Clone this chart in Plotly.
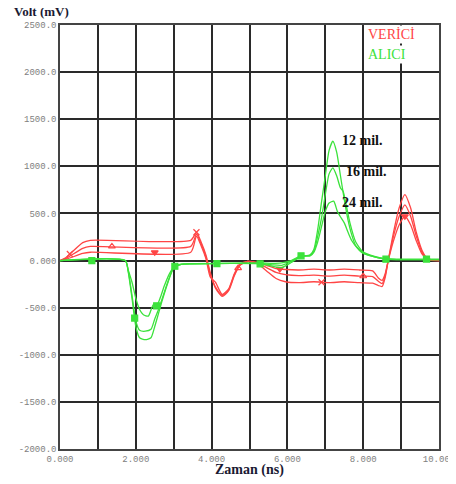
import numpy as np
import plotly.graph_objects as go

# ---------------- data ----------------
x_tick_vals = [0, 1, 2, 3, 4, 5, 6, 7, 8, 9, 10]
x_tick_text = ["0.000", "", "2.000", "", "4.000", "", "6.000", "", "8.000", "", "10.000"]
y_tick_vals = [-2000, -1500, -1000, -500, 0, 500, 1000, 1500, 2000, 2500]
y_tick_text = ["-2000.0", "-1500.0", "-1000.0", "-500.0", "0.000", "500.0", "1000.0", "1500.0", "2000.0", "2500.0"]

# VERİCİ (transmitter) curves
r_x = [0, 0.15, 0.6, 0.8, 3.45, 3.6, 3.72, 3.85, 3.96, 4.1, 4.28, 4.45, 4.6, 4.75, 4.95, 5.2, 5.45, 5.7,
       5.95, 6.3, 6.7, 7.1, 7.5, 7.9, 8.25, 8.4, 8.5, 8.58, 8.66, 8.8, 8.95, 9.1, 9.25, 9.4, 9.55, 9.7, 10]
r1_y = [0, 30, 190, 215, 215, 300, 200, 60, -120, -290, -380, -320, -160, -50, -10, -30, -110, -190,
        -225, -235, -225, -235, -225, -235, -240, -265, -275, -180, 0, 300, 560, 700, 560, 300, 110, 20, 0]
r2_y = [0, 20, 130, 150, 150, 280, 180, 40, -140, -280, -370, -310, -150, -45, -10, -25, -75, -125,
        -150, -160, -155, -165, -155, -165, -170, -220, -245, -160, 0, 260, 470, 590, 470, 260, 90, 15, 0]
r3_y = [0, 12, 75, 88, 88, 260, 160, 20, -170, -230, -360, -300, -140, -40, -10, -20, -50, -85,
        -95, -100, -92, -100, -92, -100, -110, -185, -210, -140, 0, 210, 380, 470, 380, 210, 70, 10, 0]

# ALICI (receiver) curves: 12 mil, 16 mil, 24 mil
g1_x = [0, 1.72, 1.8, 1.9, 2.0, 2.1, 2.25, 2.4, 2.5, 2.6, 2.7, 2.85, 3.0, 3.2, 3.5, 4.5, 5.3, 5.6, 5.85,
        6.1, 6.35, 6.6, 6.7, 6.8, 6.9, 7.0, 7.1, 7.2, 7.3, 7.4, 7.5, 7.6, 7.7, 7.8, 8.0, 8.3, 8.6, 10]
g1_y = [0, 0, -120, -400, -700, -820, -840, -820, -700, -560, -420, -230, -80, -40, -35, -30, -35, -60, -75,
        -20, 40, 60, 120, 330, 620, 900, 1170, 1266, 1150, 900, 650, 430, 270, 160, 80, 40, 15, 10]
g2_x = [0, 1.72, 1.8, 1.9, 2.0, 2.1, 2.25, 2.4, 2.5, 2.6, 2.7, 2.85, 3.0, 3.2, 3.5, 4.5, 5.3, 5.6, 5.85,
        6.1, 6.35, 6.6, 6.7, 6.8, 6.9, 7.0, 7.1, 7.2, 7.3, 7.4, 7.47, 7.55, 7.65, 7.8, 8.0, 8.3, 8.6, 10]
g2_y = [0, 0, -110, -370, -640, -740, -750, -730, -620, -520, -400, -220, -75, -40, -35, -30, -30, -45, -50,
        -10, 45, 55, 100, 260, 450, 700, 920, 984, 900, 770, 735, 590, 400, 200, 90, 45, 20, 15]
g3_x = [0, 1.72, 1.8, 1.9, 2.0, 2.1, 2.2, 2.33, 2.46, 2.55, 2.65, 2.75, 2.9, 3.05, 3.3, 4.5, 5.3, 5.6, 5.85,
        6.1, 6.35, 6.6, 6.7, 6.8, 6.9, 7.0, 7.1, 7.22, 7.32, 7.39, 7.5, 7.6, 7.7, 7.85, 8.0, 8.3, 8.6, 10]
g3_y = [0, 0, -100, -230, -400, -520, -575, -590, -470, -480, -390, -270, -130, -50, -35, -30, -25, -30, -25,
        0, 50, 50, 90, 200, 360, 520, 610, 630, 520, 470, 400, 300, 210, 130, 75, 40, 15, 10]

# marker positions (ns) along curves
r1_mark_x = [0.26, 3.6, 6.9]
r2_mark_x = [1.37, 4.7, 8.0]
r3_mark_x = [2.5, 5.8, 9.1]
g1_mark_x = [1.97, 5.28, 8.6]
g2_mark_x = [0.84, 4.14, 9.67]
g3_mark_x = [2.55, 3.03, 6.36]

labels = ["12 mil.", "16 mil.", "24 mil."]
label_x = [7.39, 7.49, 7.39]
label_y = [1274, 945, 616]

RED = "#ff4545"
GREEN = "#3be23b"

fig = go.Figure()

def add_curve(x, y, color, mx, symbol):
    fig.add_trace(go.Scatter(x=x, y=y, mode="lines",
                             line=dict(color=color, width=1.3, shape="spline", smoothing=0.6),
                             showlegend=False, hoverinfo="skip"))
    my = np.interp(mx, x, y)
    fig.add_trace(go.Scatter(x=mx, y=my, mode="markers",
                             marker=dict(color=color, size=6, symbol=symbol,
                                         line=dict(color=color, width=1.2)),
                             showlegend=False, hoverinfo="skip"))

add_curve(r_x, r1_y, RED, r1_mark_x, "x-thin")
add_curve(r_x, r2_y, RED, r2_mark_x, "triangle-up-open")
add_curve(r_x, r3_y, RED, r3_mark_x, "triangle-down")
add_curve(g1_x, g1_y, GREEN, g1_mark_x, "square")
add_curve(g2_x, g2_y, GREEN, g2_mark_x, "square")
add_curve(g3_x, g3_y, GREEN, g3_mark_x, "square")

for t, lx, ly in zip(labels, label_x, label_y):
    fig.add_annotation(x=lx, y=ly, text=f"<b>{t}</b>", showarrow=False, xanchor="left",
                       font=dict(family="Liberation Serif", size=14, color="#111"))

fig.add_annotation(x=8.07, y=2399, text="VERİCİ", showarrow=False, xanchor="left", yanchor="middle",
                   bgcolor="white", borderpad=1,
                   font=dict(family="Liberation Serif", size=14, color=RED))
fig.add_annotation(x=8.07, y=2190, text="ALICI", showarrow=False, xanchor="left", yanchor="middle",
                   bgcolor="white", borderpad=1,
                   font=dict(family="Liberation Serif", size=14, color=GREEN))

fig.add_annotation(xref="paper", yref="paper", x=-0.124, y=1.0118, xanchor="left", yanchor="bottom",
                   text="<b>Volt (mV)</b>", showarrow=False, borderpad=0,
                   font=dict(family="Liberation Serif", size=13, color="#1a1a33"))
fig.add_annotation(xref="paper", yref="paper", x=0.5, y=-0.05, xanchor="center", yanchor="middle",
                   text="<b>Zaman (ns)</b>", showarrow=False,
                   font=dict(family="Liberation Serif", size=14, color="#1a1a33"))

tickfont = dict(family="Liberation Mono", size=9, color="#808080")
fig.update_xaxes(range=[0, 10], tickvals=x_tick_vals, ticktext=x_tick_text, tickfont=tickfont,
                 showgrid=True, gridcolor="#2a2a2a", gridwidth=1.5, zeroline=False, automargin=False,
                 showline=True, linecolor="#444", linewidth=1.5, mirror=True, ticks="")
fig.update_yaxes(range=[-2000, 2500], tickvals=y_tick_vals, ticktext=y_tick_text, tickfont=tickfont,
                 showgrid=True, gridcolor="#2a2a2a", gridwidth=1.5, zeroline=False, automargin=False,
                 showline=True, linecolor="#444", linewidth=1.5, mirror=True, ticks="")

# page adds an 8px body margin, so the figure is drawn 8px smaller
fig.update_layout(width=448, height=476, margin=dict(l=52, r=17, t=17, b=35),
                  plot_bgcolor="white", paper_bgcolor="white", showlegend=False)

fig.write_html("out.html")
